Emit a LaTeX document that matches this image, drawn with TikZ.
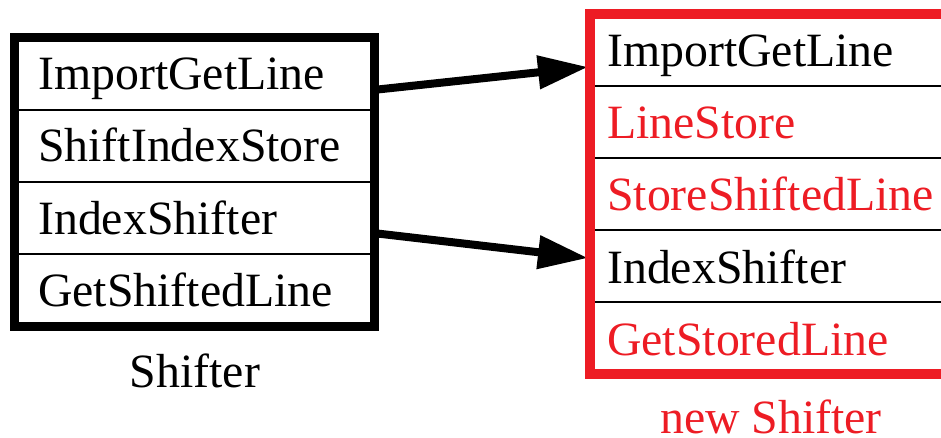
\documentclass[tikz,border=0pt]{standalone}
\usepackage{fontspec}
\setmainfont{Liberation Serif}
\usetikzlibrary{arrows.meta}
\definecolor{newred}{RGB}{237,28,36}
\begin{document}
\begin{tikzpicture}[x=1pt,y=-1pt,
  label/.style={inner sep=0pt,anchor=base west,font=\fontsize{47.8}{56}\selectfont},
  caption/.style={inner sep=0pt,anchor=base,font=\fontsize{47.8}{56}\selectfont},
  divider/.style={line width=1.5pt},
  link/.style={line width=8pt,-{Triangle[length=50pt,width=32pt]}}]
  \useasboundingbox (0,0) rectangle (941,438);
  \clip (0,0) rectangle (941,438);
  % anchor points of the two connectors
  \coordinate (oldImport) at (373,90);
  \coordinate (oldIndex) at (373,233);
  \coordinate (newImport) at (588,67);
  \coordinate (newIndex) at (588,258);
  \draw[link] (oldImport) -- (newImport);
  \draw[link] (oldIndex) -- (newIndex);
  % old Shifter
  \draw[divider] (14.5,110) -- (374.5,110) (14.5,182) -- (374.5,182) (14.5,254) -- (374.5,254);
  \draw[line width=9pt] (14.5,38) rectangle (374.5,326.5);
  \node[label] (a1) at (38,90) {ImportGetLine};
  \node[label] (a2) at (38,162) {ShiftIndexStore};
  \node[label] (a3) at (38,234) {IndexShifter};
  \node[label] (a4) at (38,306) {GetShiftedLine};
  \node[caption] (oldname) at (195,387) {Shifter};
  % new Shifter
  \draw[divider] (590,86) -- (960,86) (590,158) -- (960,158) (590,230) -- (960,230) (590,302) -- (960,302);
  \draw[newred,line width=10pt] (590,14.5) rectangle (980,374);
  \node[label] (b1) at (607,67) {ImportGetLine};
  \node[label,text=newred] (b2) at (607,139) {LineStore};
  \node[label,text=newred] (b3) at (607,211) {StoreShiftedLine};
  \node[label] (b4) at (607,283) {IndexShifter};
  \node[label,text=newred] (b5) at (607,355) {GetStoredLine};
  \node[caption,text=newred] (newname) at (771,433) {new Shifter};
\end{tikzpicture}
\end{document}
